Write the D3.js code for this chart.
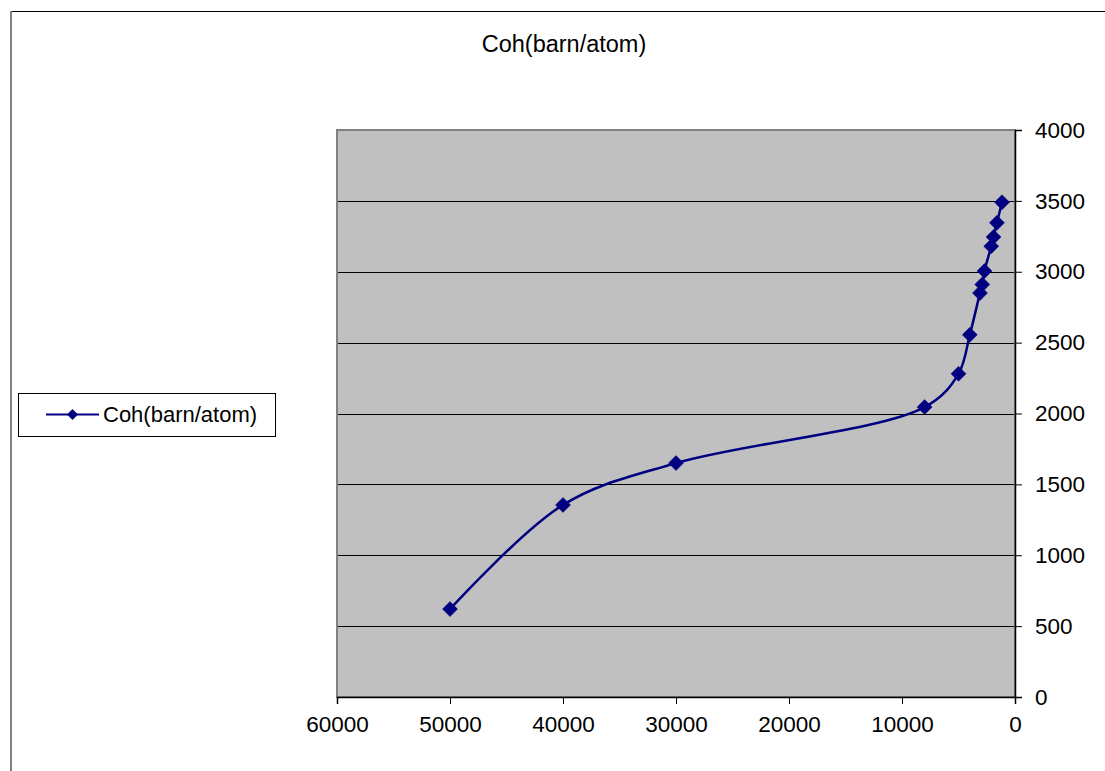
<!DOCTYPE html>
<html>
<head>
<meta charset="utf-8">
<script src="https://cdn.jsdelivr.net/npm/d3@7"></script>
<style>
  html, body { margin: 0; padding: 0; background: #fff; }
  svg { display: block; font-family: "Liberation Sans", Arial, sans-serif; }
</style>
</head>
<body>
<svg id="chart" width="1105" height="771"></svg>
<script>
// ---- data ----
const seriesName = "Coh(barn/atom)";
const energies = [50000, 40000, 30000, 8000, 5000, 4000, 3100, 2900, 2700, 2100, 1900, 1600, 1150];
const cohValues = [620, 1355, 1650, 2045, 2280, 2555, 2850, 2910, 3005, 3180, 3245, 3345, 3490];
const xTicks = [60000, 50000, 40000, 30000, 20000, 10000, 0];
const yTicks = [0, 500, 1000, 1500, 2000, 2500, 3000, 3500, 4000];

(function () {
const data = energies.map((e, i) => ({ x: e, y: cohValues[i] }));

const svg = d3.select("#chart");
const W = 1105, H = 771;
const pL = 337, pR = 1015, pT = 130, pB = 697;
const navy = "#000080";

// outer chart border (extends beyond window on right/bottom)
svg.append("line").attr("x1", 11).attr("x2", W + 5).attr("y1", 11.5).attr("y2", 11.5)
  .attr("stroke", "#000").attr("stroke-width", 1);
svg.append("line").attr("x1", 11).attr("x2", 11).attr("y1", 11).attr("y2", H + 5)
  .attr("stroke", "#808080").attr("stroke-width", 2);

// title
svg.append("text").attr("x", 564).attr("y", 52).attr("text-anchor", "middle")
  .attr("font-size", 23.5).attr("fill", "#000").text(seriesName);

const x = d3.scaleLinear().domain([60000, 0]).range([pL, pR]);
const y = d3.scaleLinear().domain([0, 4000]).range([pB, pT]);

// plot area
svg.append("rect").attr("x", pL).attr("y", pT).attr("width", pR - pL).attr("height", pB - pT)
  .attr("fill", "#c0c0c0");

// gridlines
svg.append("g").selectAll("line").data(yTicks.filter(d => d > 0 && d < 4000)).join("line")
  .attr("x1", pL).attr("x2", pR)
  .attr("y1", d => Math.round(y(d)) + 0.5).attr("y2", d => Math.round(y(d)) + 0.5)
  .attr("stroke", "#000").attr("stroke-width", 1);

// plot border (gray)
svg.append("rect").attr("x", pL).attr("y", pT).attr("width", pR - pL).attr("height", pB - pT)
  .attr("fill", "none").attr("stroke", "#808080").attr("stroke-width", 2);

// x axis (bottom)
const xAxis = d3.axisBottom(x).tickValues(xTicks).tickSize(7).tickPadding(12).tickFormat(d3.format("d"));
const gx = svg.append("g").attr("transform", `translate(0,${pB})`).call(xAxis);
gx.select(".domain").attr("stroke", "#000").attr("stroke-width", 1.5);
gx.selectAll(".tick line").attr("stroke", "#000");
gx.selectAll("text").attr("font-size", 22.5).attr("fill", "#000")
  .attr("font-family", '"Liberation Sans", Arial, sans-serif');

// y axis (right)
const yAxis = d3.axisRight(y).tickValues(yTicks).tickSize(7).tickPadding(13).tickFormat(d3.format("d"));
const gy = svg.append("g").attr("transform", `translate(${pR},0)`).call(yAxis);
gy.select(".domain").attr("stroke", "#000").attr("stroke-width", 1.5);
gy.selectAll(".tick line").attr("stroke", "#000");
gy.selectAll("text").attr("font-size", 22.5).attr("fill", "#000")
  .attr("font-family", '"Liberation Sans", Arial, sans-serif');

// smoothed line
const line = d3.line().x(d => x(d.x)).y(d => y(d.y)).curve(d3.curveCatmullRom.alpha(0.5));
svg.append("path").datum(data).attr("d", line)
  .attr("fill", "none").attr("stroke", navy).attr("stroke-width", 2.5);

// diamond markers
const diamond = (cx, cy, r) => `M${cx},${cy - r}L${cx + r},${cy}L${cx},${cy + r}L${cx - r},${cy}Z`;
svg.append("g").selectAll("path").data(data).join("path")
  .attr("d", d => diamond(x(d.x), y(d.y), 7.5))
  .attr("fill", navy).attr("stroke", navy).attr("stroke-width", 0.5);

// legend
const lg = svg.append("g");
lg.append("rect").attr("x", 18.5).attr("y", 393.5).attr("width", 257).attr("height", 43)
  .attr("fill", "#fff").attr("stroke", "#000").attr("stroke-width", 1);
lg.append("line").attr("x1", 46).attr("x2", 99).attr("y1", 414.5).attr("y2", 414.5)
  .attr("stroke", navy).attr("stroke-width", 2);
lg.append("path").attr("d", diamond(72.5, 414.5, 5.5)).attr("fill", navy);
lg.append("text").attr("x", 103).attr("y", 421.5).attr("font-size", 22).attr("fill", "#000").text(seriesName);
})();
</script>
</body>
</html>
